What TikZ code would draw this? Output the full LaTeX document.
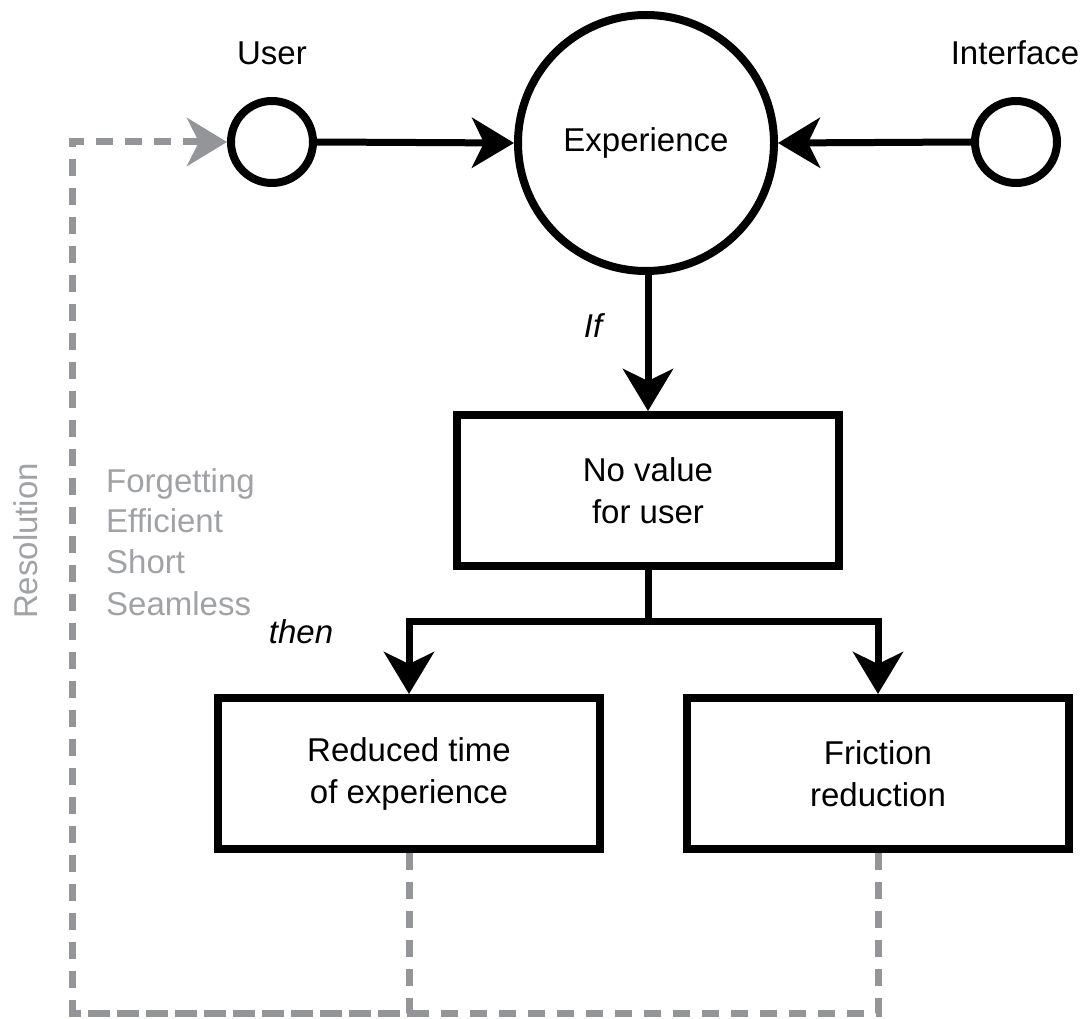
\documentclass[tikz,border=0pt]{standalone}
\usepackage{fontspec}
\setmainfont{Liberation Sans}
\usetikzlibrary{arrows.meta}
\definecolor{dgray}{RGB}{147,149,152}
\definecolor{tgray}{RGB}{160,162,165}
\tikzset{
  txt/.style={font=\fontsize{33}{42}\selectfont, inner sep=0pt},
  circ/.style={circle, draw=black, line width=8pt, fill=white, inner sep=0pt},
  boxnode/.style={rectangle, draw=black, line width=8pt, fill=white, minimum width=382pt, minimum height=151pt, align=center, font=\fontsize{33}{42}\selectfont},
  conn/.style={line width=7pt, draw=black},
  arr/.style={conn, -{Stealth[length=42pt, width=50pt, inset=12pt]}},
  gdash/.style={line width=7pt, draw=dgray, dash pattern=on 17pt off 12pt},
  garr/.style={gdash, -{Stealth[length=40pt, width=48pt, inset=12pt, color=dgray]}},
}
\begin{document}
\begin{tikzpicture}[x=1pt,y=-1pt]
\useasboundingbox[fill=white] (0,0) rectangle (1089,1019);
% nodes
\node[circ, minimum size=82pt] (user) at (272,142) {};
\node[circ, minimum size=256pt] (exp) at (646,143) {};
\node[circ, minimum size=82pt] (iface) at (1016,142) {};
\node[txt, anchor=base] (explbl) at (646,152) {Experience};
\node[txt, anchor=base] (userlbl) at (272,65) {User};
\node[txt, anchor=base] (ifacelbl) at (1015,65) {Interface};
\node[boxnode] (novalue) at (648,490.5) {No value\\for user};
\node[boxnode] (reduced) at (409,773.5) {Reduced time\\of experience};
\node[boxnode] (friction) at (878,773.5) {Friction\\reduction};
% labels
\node[txt, anchor=base, font=\fontsize{33}{42}\selectfont\itshape] (iflbl) at (593,337) {If};
\node[txt, anchor=base, font=\fontsize{33}{42}\selectfont\itshape] (thenlbl) at (301,643) {then};
\node[txt, text=tgray, anchor=base, rotate=90] (res) at (37,541) {Resolution};
\node[txt, text=tgray, anchor=base west] (l1) at (106,492) {Forgetting};
\node[txt, text=tgray, anchor=base west] (l2) at (106,532) {Efficient};
\node[txt, text=tgray, anchor=base west] (l3) at (106,573) {Short};
\node[txt, text=tgray, anchor=base west] (l4) at (106,615) {Seamless};
% connectors
\draw[arr] (user.east) -- (exp.west);
\draw[arr] (iface.west) -- (exp.east);
\draw[arr] (exp.south -| novalue.north) -- (novalue.north);
\coordinate (br) at (648,621);
\draw[conn] (novalue.south) -- (br);
\draw[arr] (br) -| (reduced.north);
\draw[arr] (br) -| (friction.north);
% dashed feedback
\coordinate (bl) at (72,1013);
\coordinate (tl) at (72,142);
\draw[gdash] (friction.south) |- (bl);
\draw[garr] (reduced.south) |- (bl) -- (tl) -- (user.west);
\end{tikzpicture}
\end{document}
